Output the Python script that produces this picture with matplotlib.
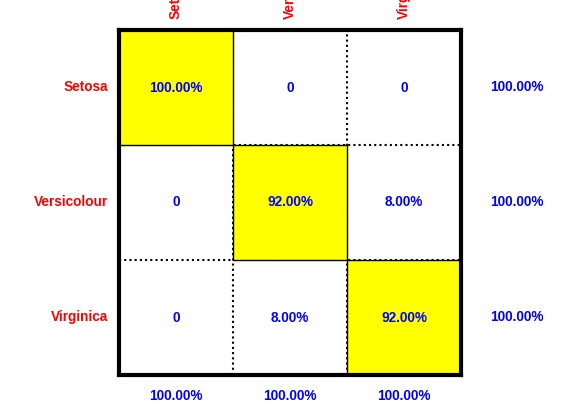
import matplotlib.pyplot as plt
from matplotlib.patches import Rectangle

classes = ["Setosa", "Versicolour", "Virginica"]
matrix = [[100.0, 0.0, 0.0],
          [0.0, 92.0, 8.0],
          [0.0, 8.0, 92.0]]
row_totals = [100.0, 100.0, 100.0]
col_totals = [100.0, 100.0, 100.0]

red = '#ff0000'
blue = '#0000ff'
font = dict(family='Liberation Sans', fontweight='bold', fontsize=9.8)

fig = plt.figure(figsize=(5.61, 4.2), dpi=100)
ax = fig.add_axes([119 / 561, 1 - 375 / 420, 342 / 561, 345 / 420])
n = len(classes)
ax.set_xlim(0, n)
ax.set_ylim(n, 0)

# dotted grid between cells
for k in range(1, n):
    ax.axhline(k, color='black', lw=1.5, ls=(0, (1, 1.5)), zorder=1)
    ax.axvline(k, color='black', lw=1.5, ls=(0, (1, 1.5)), zorder=1)

def fmt(v):
    return "0" if v == 0 else "%.2f%%" % v

for i in range(n):
    for j in range(n):
        if i == j:
            ax.add_patch(Rectangle((j, i), 1, 1, facecolor='#ffff00',
                                   edgecolor='black', lw=1, zorder=2))
        ax.text(j + 0.5, i + 0.5, fmt(matrix[i][j]), color=blue,
                ha='center', va='center', zorder=3, **font)

for s in ax.spines.values():
    s.set_linewidth(3)
    s.set_zorder(4)
ax.set_xticks([])
ax.set_yticks([])

# row labels and totals
for i, name in enumerate(classes):
    y = (30 + 115 * i + 57) / 420
    fig.text(108 / 561, 1 - y, name, color=red, ha='right', va='center', **font)
    fig.text(517 / 561, 1 - y, fmt(row_totals[i]), color=blue,
             ha='center', va='center', **font)

# column labels (rotated, running off the top as in the original) and totals
for j, name in enumerate(classes):
    x = (119 + 114 * j + 57) / 561
    fig.text(x, 1 - 19 / 420, name, color=red, rotation=90,
             ha='center', va='bottom', **font)
    fig.text(x, 1 - 396 / 420, fmt(col_totals[j]), color=blue,
             ha='center', va='center', **font)

fig.savefig("out.png", dpi=100)
